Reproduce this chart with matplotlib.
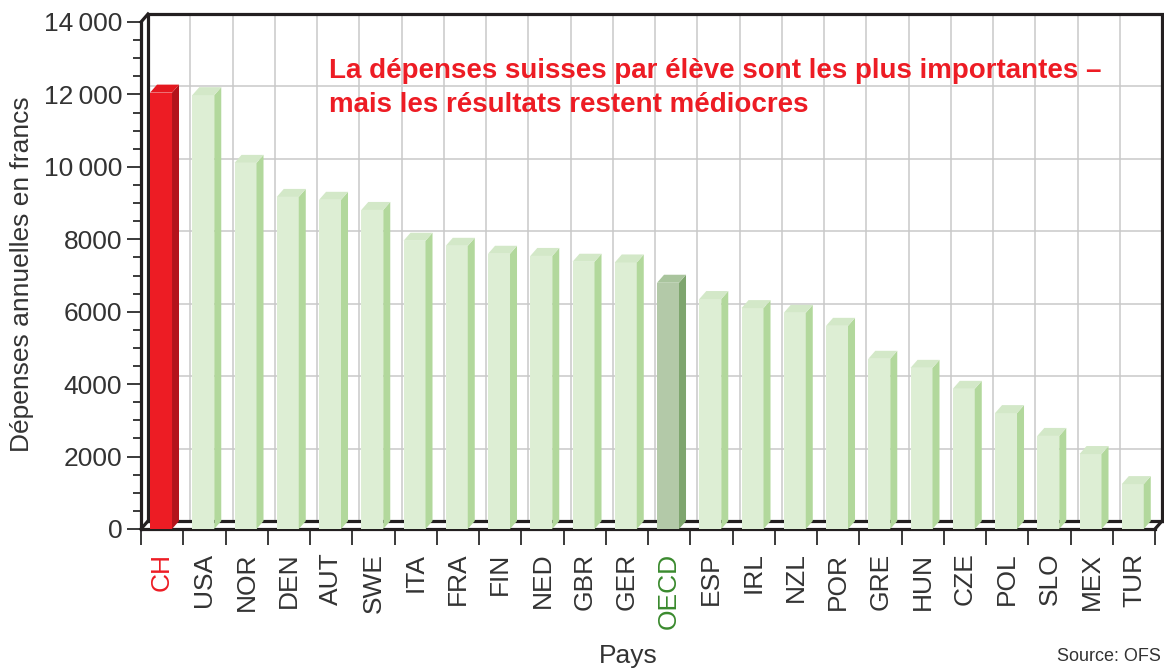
import numpy as np
import matplotlib
matplotlib.use("Agg")
import matplotlib.pyplot as plt
from matplotlib.patches import Polygon

plt.rcParams['font.family'] = ['Liberation Sans', 'DejaVu Sans']

# data
countries = ['CH', 'USA', 'NOR', 'DEN', 'AUT', 'SWE', 'ITA', 'FRA', 'FIN', 'NED', 'GBR', 'GER',
             'OECD', 'ESP', 'IRL', 'NZL', 'POR', 'GRE', 'HUN', 'CZE', 'POL', 'SLO', 'MEX', 'TUR']
spending = [12050, 11980, 10110, 9170, 9090, 8810, 7960, 7820, 7600, 7540, 7380, 7360,
            6800, 6350, 6100, 5970, 5610, 4700, 4450, 3870, 3200, 2570, 2070, 1240]
yticks = [0, 2000, 4000, 6000, 8000, 10000, 12000, 14000]
ytick_labels = ['0', '2000', '4000', '6000', '8000', '10\u2009000', '12\u2009000', '14\u2009000']
title_lines = ['La dépenses suisses par élève sont les plus importantes –',
               'mais les résultats restent médiocres']

n = len(countries)
ymax = 14000
W, H = 1164, 671

fig = plt.figure(figsize=(W / 100, H / 100), dpi=100)
# front plane of the box
x0px, x1px, ybot, ytop = 141, 1155, 529, 22
ax = fig.add_axes([x0px / W, 1 - ybot / H, (x1px - x0px) / W, (ybot - ytop) / H])
ax.set_xlim(0, n)
ax.set_ylim(0, ymax)
for s in ax.spines.values():
    s.set_visible(False)
ax.patch.set_visible(False)

# depth offset (px -> data)
px_x = n / (x1px - x0px)
px_y = ymax / (ybot - ytop)
dx, dy = 7 * px_x, 8 * px_y

black = '#231f20'
grid = '#c9c9c9'
lw_box = 2.3

# back wall grid
for v in yticks[1:-1]:
    ax.plot([dx, n + dx], [v + dy, v + dy], color=grid, lw=1.1, zorder=1, clip_on=False)
for i in range(1, n):
    ax.plot([i + dx, i + dx], [dy, ymax + dy], color=grid, lw=1.1, zorder=1, clip_on=False)

# back box lines
ax.plot([dx, dx, n + dx, n + dx], [dy, ymax + dy, ymax + dy, dy], color=black, lw=lw_box,
        zorder=2, clip_on=False, solid_joinstyle='miter')
ax.plot([dx, n + dx], [dy, dy], color=black, lw=lw_box, zorder=2, clip_on=False)

# bars
face = {'CH': ('#ed1c24', '#b3131b', '#e4181f'), 'OECD': ('#b3c9a8', '#7ea56e', '#a9c49d')}
default = ('#ddeed4', '#b2d89c', '#d3e8c8')
bw = 0.52
for i, (c, v) in enumerate(zip(countries, spending)):
    fc, sc, tc = face.get(c, default)
    a, b = i + 0.474 - bw / 2, i + 0.474 + bw / 2
    ax.add_patch(Polygon([(a, 0), (b, 0), (b, v), (a, v)], closed=True, fc=fc, ec='none',
                         zorder=4, clip_on=False))
    ax.add_patch(Polygon([(b, 0), (b + dx, dy), (b + dx, v + dy), (b, v)], closed=True, fc=sc,
                         ec='none', zorder=4, clip_on=False))
    ax.add_patch(Polygon([(a, v), (a + dx, v + dy), (b + dx, v + dy), (b, v)], closed=True, fc=tc,
                         ec='none', zorder=4, clip_on=False))

# front box lines
ax.plot([0, 0], [0, ymax], color=black, lw=lw_box, zorder=5, clip_on=False)
ax.plot([0, dx], [ymax, ymax + dy], color=black, lw=lw_box, zorder=5, clip_on=False)
ax.plot([0, dx], [0, dy], color=black, lw=lw_box, zorder=5, clip_on=False)
ax.plot([n, n + dx], [0, dy], color=black, lw=lw_box, zorder=5, clip_on=False)
ax.plot([0, n], [0, 0], color=black, lw=lw_box, zorder=3, clip_on=False)

# y ticks
ax.set_yticks(yticks)
ax.set_yticklabels(ytick_labels)
ax.set_yticks(np.arange(0, ymax + 1, 500), minor=True)
ax.tick_params(axis='y', which='major', direction='out', length=10, width=1.4, color='#3a3a3a',
               labelsize=19, labelcolor='#333333', pad=3.5)
ax.tick_params(axis='y', which='minor', direction='out', length=5.5, width=1.4, color='#3a3a3a')

# x ticks: separators as major, labels as minor
ax.set_xticks(np.arange(0, n + 1))
ax.set_xticklabels([])
ax.set_xticks(np.arange(n) + 0.5, minor=True)
ax.set_xticklabels(countries, minor=True, rotation=90, va='top', ha='center')
ax.tick_params(axis='x', which='major', direction='out', length=11.5, width=1.4, color='#3a3a3a')
ax.tick_params(axis='x', which='minor', length=0, labelsize=19, labelcolor='#333333', pad=17)
for lab in ax.get_xticklabels(minor=True):
    if lab.get_text() == 'CH':
        lab.set_color('#ed1c24')
    elif lab.get_text() == 'OECD':
        lab.set_color('#3a8a2e')

# labels
fig.text(22 / W, 1 - 274 / H, 'Dépenses annuelles en francs', rotation=90, ha='center',
         va='center', fontsize=19, color='#333333')
fig.text(628 / W, 1 - 663 / H, 'Pays', ha='center', va='baseline', fontsize=19, color='#333333')
fig.text(1161 / W, 1 - 661 / H, 'Source: OFS', ha='right', va='baseline', fontsize=13,
         color='#333333')
for k, line in enumerate(title_lines):
    fig.text(329 / W, 1 - (78 + 34 * k) / H, line, ha='left', va='baseline', fontsize=20,
             fontweight='bold', color='#ed1c24')

fig.savefig('out.png', dpi=100)
